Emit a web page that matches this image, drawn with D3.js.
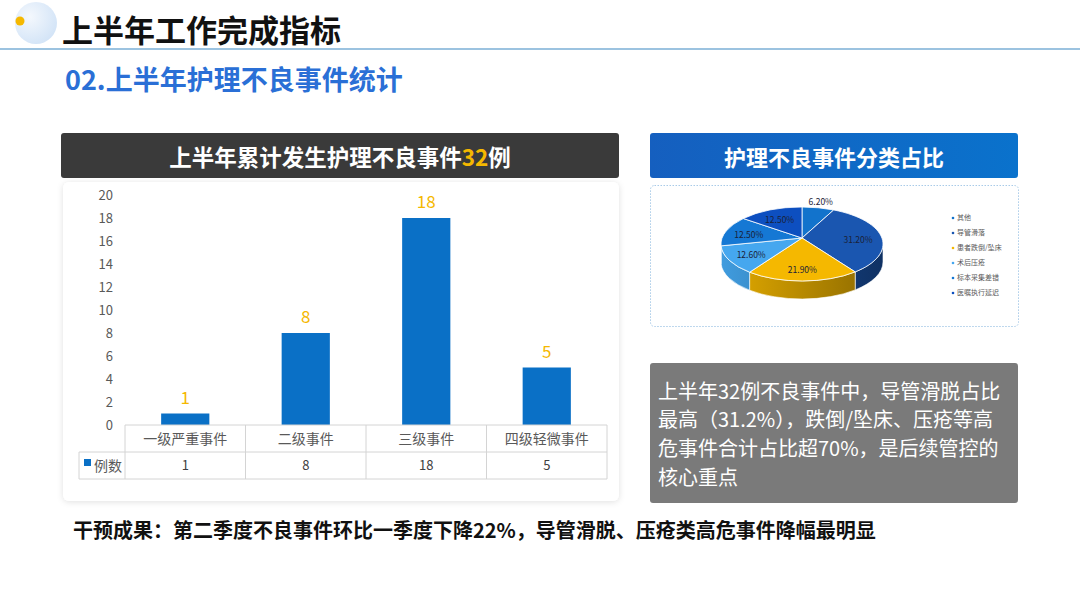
<!DOCTYPE html>
<html>
<head>
<meta charset="utf-8">
<script src="https://cdn.jsdelivr.net/npm/d3@7"></script>
<style>
  html, body { margin: 0; padding: 0; background: #fff; }
  svg { display: block; font-family: "Noto Sans CJK SC", "Noto Sans", sans-serif; }
</style>
</head>
<body>
<svg id="slide" width="1080" height="608"></svg>
<script>
// ---- data ----
var barCategories = ["一级严重事件", "二级事件", "三级事件", "四级轻微事件"];
var barValues = [1, 8, 18, 5];
var barSeriesName = "例数";
var yDomain = [0, 20];

var pieLabels = ["其他", "导管滑落", "患者跌倒/坠床", "术后压疮", "标本采集差错", "医嘱执行延迟"];
var pieValues = [6.2, 31.2, 21.9, 12.6, 12.5, 12.5];
var pieColors = ["#1273cc", "#1a56b0", "#f5b800", "#45a7ef", "#1578d4", "#0d4fc0"];

var noteLines = [
    "上半年32例不良事件中，导管滑脱占比",
    "最高（31.2%），跌倒/坠床、压疮等高",
    "危事件合计占比超70%，是后续管控的",
    "核心重点"
];

var svg = d3.select("#slide");
var defs = svg.append("defs");

// ---- header ----
var deco = defs.append("radialGradient").attr("id", "decoGrad")
    .attr("cx", "35%").attr("cy", "35%").attr("r", "70%");
deco.append("stop").attr("offset", "0%").attr("stop-color", "#f4f8fd");
deco.append("stop").attr("offset", "100%").attr("stop-color", "#d3e4f7");
svg.append("circle").attr("cx", 36).attr("cy", 23).attr("r", 21).attr("fill", "url(#decoGrad)");
svg.append("circle").attr("cx", 20).attr("cy", 21).attr("r", 4.5).attr("fill", "#f5b800");

svg.append("text").attr("x", 62).attr("y", 42)
    .attr("font-size", 31).attr("font-weight", 700).attr("fill", "#111")
    .text("上半年工作完成指标");
svg.append("line").attr("x1", 0).attr("x2", 1080).attr("y1", 49).attr("y2", 49)
    .attr("stroke", "#7bafd6").attr("stroke-width", 1.6);

svg.append("text").attr("x", 65).attr("y", 90)
    .attr("font-size", 27).attr("font-weight", 700).attr("fill", "#2a6fd6")
    .text("02.上半年护理不良事件统计");

// ---- left panel: title bar ----
svg.append("rect").attr("x", 61).attr("y", 133).attr("width", 558).attr("height", 45)
    .attr("rx", 3).attr("fill", "#3a3a3a");
var t1 = svg.append("text").attr("x", 340).attr("y", 166).attr("text-anchor", "middle")
    .attr("font-size", 22.5).attr("font-weight", 700).attr("fill", "#fff");
t1.append("tspan").text("上半年累计发生护理不良事件");
t1.append("tspan").attr("fill", "#f5b800").text("32");
t1.append("tspan").text("例");

// card with soft shadow
var shadow = defs.append("filter").attr("id", "shadow")
    .attr("x", "-5%").attr("y", "-5%").attr("width", "110%").attr("height", "110%");
shadow.append("feDropShadow").attr("dx", 0).attr("dy", 1).attr("stdDeviation", 3)
    .attr("flood-color", "#000").attr("flood-opacity", 0.12);
svg.append("rect").attr("x", 63).attr("y", 182).attr("width", 556).attr("height", 319)
    .attr("rx", 6).attr("fill", "#fff").attr("filter", "url(#shadow)");

// ---- bar chart ----
var y = d3.scaleLinear().domain(yDomain).range([425, 195]);
var x = d3.scaleBand().domain(barCategories).range([125, 607]);
var barW = x.bandwidth() * 0.4;
var chart = svg.append("g");

chart.append("g").selectAll("text").data(y.ticks(10)).join("text")
    .attr("x", 113).attr("y", function (d) { return y(d) + 4.5; })
    .attr("text-anchor", "end").attr("font-size", 13).attr("fill", "#595959")
    .text(function (d) { return d; });

chart.append("g").selectAll("rect").data(barValues).join("rect")
    .attr("x", function (d, i) { return x(barCategories[i]) + (x.bandwidth() - barW) / 2; })
    .attr("y", function (d) { return y(d); })
    .attr("width", barW)
    .attr("height", function (d) { return y(0) - y(d); })
    .attr("fill", "#0a70c6");

chart.append("g").selectAll("text").data(barValues).join("text")
    .attr("x", function (d, i) { return x(barCategories[i]) + x.bandwidth() / 2; })
    .attr("y", function (d) { return y(d) - 10; })
    .attr("text-anchor", "middle").attr("font-size", 17).attr("fill", "#f5b800")
    .text(function (d) { return d; });

// data table under the axis
var row1 = y(0), row2 = row1 + 27, row3 = row2 + 27;
var grid = chart.append("g").attr("stroke", "#d4d4d4").attr("stroke-width", 1);
grid.append("line").attr("x1", x.range()[0]).attr("x2", x.range()[1]).attr("y1", row1).attr("y2", row1);
grid.append("line").attr("x1", 79).attr("x2", x.range()[1]).attr("y1", row2).attr("y2", row2);
grid.append("line").attr("x1", 79).attr("x2", x.range()[1]).attr("y1", row3).attr("y2", row3);
grid.append("line").attr("x1", 79).attr("x2", 79).attr("y1", row2).attr("y2", row3);
grid.selectAll("line.v").data(barCategories.concat(["end"])).join("line").attr("class", "v")
    .attr("x1", function (d, i) { return x.range()[0] + i * x.bandwidth(); })
    .attr("x2", function (d, i) { return x.range()[0] + i * x.bandwidth(); })
    .attr("y1", row1).attr("y2", row3);

chart.append("g").selectAll("text").data(barCategories).join("text")
    .attr("x", function (d) { return x(d) + x.bandwidth() / 2; })
    .attr("y", row1 + 18.5).attr("text-anchor", "middle")
    .attr("font-size", 14).attr("fill", "#595959")
    .text(function (d) { return d; });
chart.append("g").selectAll("text").data(barValues).join("text")
    .attr("x", function (d, i) { return x(barCategories[i]) + x.bandwidth() / 2; })
    .attr("y", row2 + 18).attr("text-anchor", "middle")
    .attr("font-size", 13).attr("fill", "#404040")
    .text(function (d) { return d; });
chart.append("rect").attr("x", 84).attr("y", row2 + 7).attr("width", 7).attr("height", 7).attr("fill", "#0a70c6");
chart.append("text").attr("x", 94).attr("y", row2 + 19).attr("font-size", 14).attr("fill", "#595959")
    .text(barSeriesName);

// ---- right panel: title bar ----
var hg = defs.append("linearGradient").attr("id", "headGrad");
hg.append("stop").attr("offset", "0%").attr("stop-color", "#155fbf");
hg.append("stop").attr("offset", "100%").attr("stop-color", "#0a72cc");
svg.append("rect").attr("x", 650).attr("y", 133).attr("width", 368).attr("height", 45)
    .attr("rx", 3).attr("fill", "url(#headGrad)");
svg.append("text").attr("x", 834).attr("y", 166).attr("text-anchor", "middle")
    .attr("font-size", 22).attr("font-weight", 700).attr("fill", "#fff")
    .text("护理不良事件分类占比");

svg.append("rect").attr("x", 650.5).attr("y", 185.5).attr("width", 368).attr("height", 141)
    .attr("rx", 4).attr("fill", "#fff").attr("stroke", "#a9cbe8")
    .attr("stroke-width", 1).attr("stroke-dasharray", "1.5,1.5");

// ---- 3D pie ----
var cx = 802, cy = 244, rx = 81, ry = 37, depth = 18, apexDy = -6;
function pt(a, k) { return [cx + rx * k * Math.sin(a), cy - ry * k * Math.cos(a)]; }

var arcs = d3.pie().sort(null).value(function (d) { return d; })(pieValues);
var pieG = svg.append("g");

// side walls (front half only)
arcs.forEach(function (d, i) {
    var b0 = Math.max(d.startAngle, Math.PI / 2), b1 = Math.min(d.endAngle, Math.PI * 1.5);
    if (b1 <= b0) return;
    var c = d3.color(pieColors[i]);
    var gid = "side" + i;
    var g = defs.append("linearGradient").attr("id", gid).attr("gradientUnits", "userSpaceOnUse")
        .attr("x1", cx - rx).attr("x2", cx + rx).attr("y1", 0).attr("y2", 0);
    g.append("stop").attr("offset", "0%").attr("stop-color", c.darker(0.2));
    g.append("stop").attr("offset", "100%").attr("stop-color", c.darker(1.6));
    var p0 = pt(b0, 1), p1 = pt(b1, 1);
    var path = "M" + p0 + "A" + rx + "," + ry + " 0 0 1 " + p1 +
        "L" + [p1[0], p1[1] + depth] +
        "A" + rx + "," + ry + " 0 0 0 " + [p0[0], p0[1] + depth] + "Z";
    pieG.append("path").attr("d", path).attr("fill", "url(#" + gid + ")")
        .attr("stroke", "#fff").attr("stroke-width", 0.6);
});

// top faces
arcs.forEach(function (d, i) {
    var p0 = pt(d.startAngle, 1), p1 = pt(d.endAngle, 1);
    var large = d.endAngle - d.startAngle > Math.PI ? 1 : 0;
    var path = "M" + [cx, cy + apexDy] + "L" + p0 +
        "A" + rx + "," + ry + " 0 " + large + " 1 " + p1 + "Z";
    pieG.append("path").attr("d", path).attr("fill", pieColors[i])
        .attr("stroke", "#fff").attr("stroke-width", 0.8);
});

// percentage labels
var fmt = d3.format(".2f");
pieG.selectAll("text").data(arcs).join("text")
    .attr("transform", function (d) {
        var mid = (d.startAngle + d.endAngle) / 2;
        var share = (d.endAngle - d.startAngle) / (2 * Math.PI);
        var p = share < 0.1 ? pt(mid, 1.16) : pt(mid, 0.7);
        return "translate(" + p + ")";
    })
    .attr("dy", "0.35em").attr("text-anchor", "middle")
    .attr("font-size", 8.5).attr("fill", "#1a2238")
    .text(function (d) { return fmt(d.data) + "%"; });

// legend
var leg = svg.append("g").selectAll("g").data(pieLabels).join("g")
    .attr("transform", function (d, i) { return "translate(953," + (218 + i * 15) + ")"; });
leg.append("circle").attr("r", 1.3).attr("fill", function (d, i) { return pieColors[i]; });
leg.append("text").attr("x", 4).attr("dy", "0.35em").attr("font-size", 7).attr("fill", "#595959")
    .text(function (d) { return d; });

// ---- note box ----
svg.append("rect").attr("x", 650).attr("y", 363).attr("width", 368).attr("height", 140)
    .attr("rx", 3).attr("fill", "#7a7a7a");
svg.append("g").selectAll("text").data(noteLines).join("text")
    .attr("x", 658).attr("y", function (d, i) { return 398.5 + i * 28.7; })
    .attr("font-size", 20).attr("fill", "#fff")
    .text(function (d) { return d; });

// ---- footer ----
svg.append("text").attr("x", 73).attr("y", 538)
    .attr("font-size", 20).attr("font-weight", 700).attr("fill", "#111")
    .text("干预成果：第二季度不良事件环比一季度下降22%，导管滑脱、压疮类高危事件降幅最明显");
</script>
</body>
</html>
